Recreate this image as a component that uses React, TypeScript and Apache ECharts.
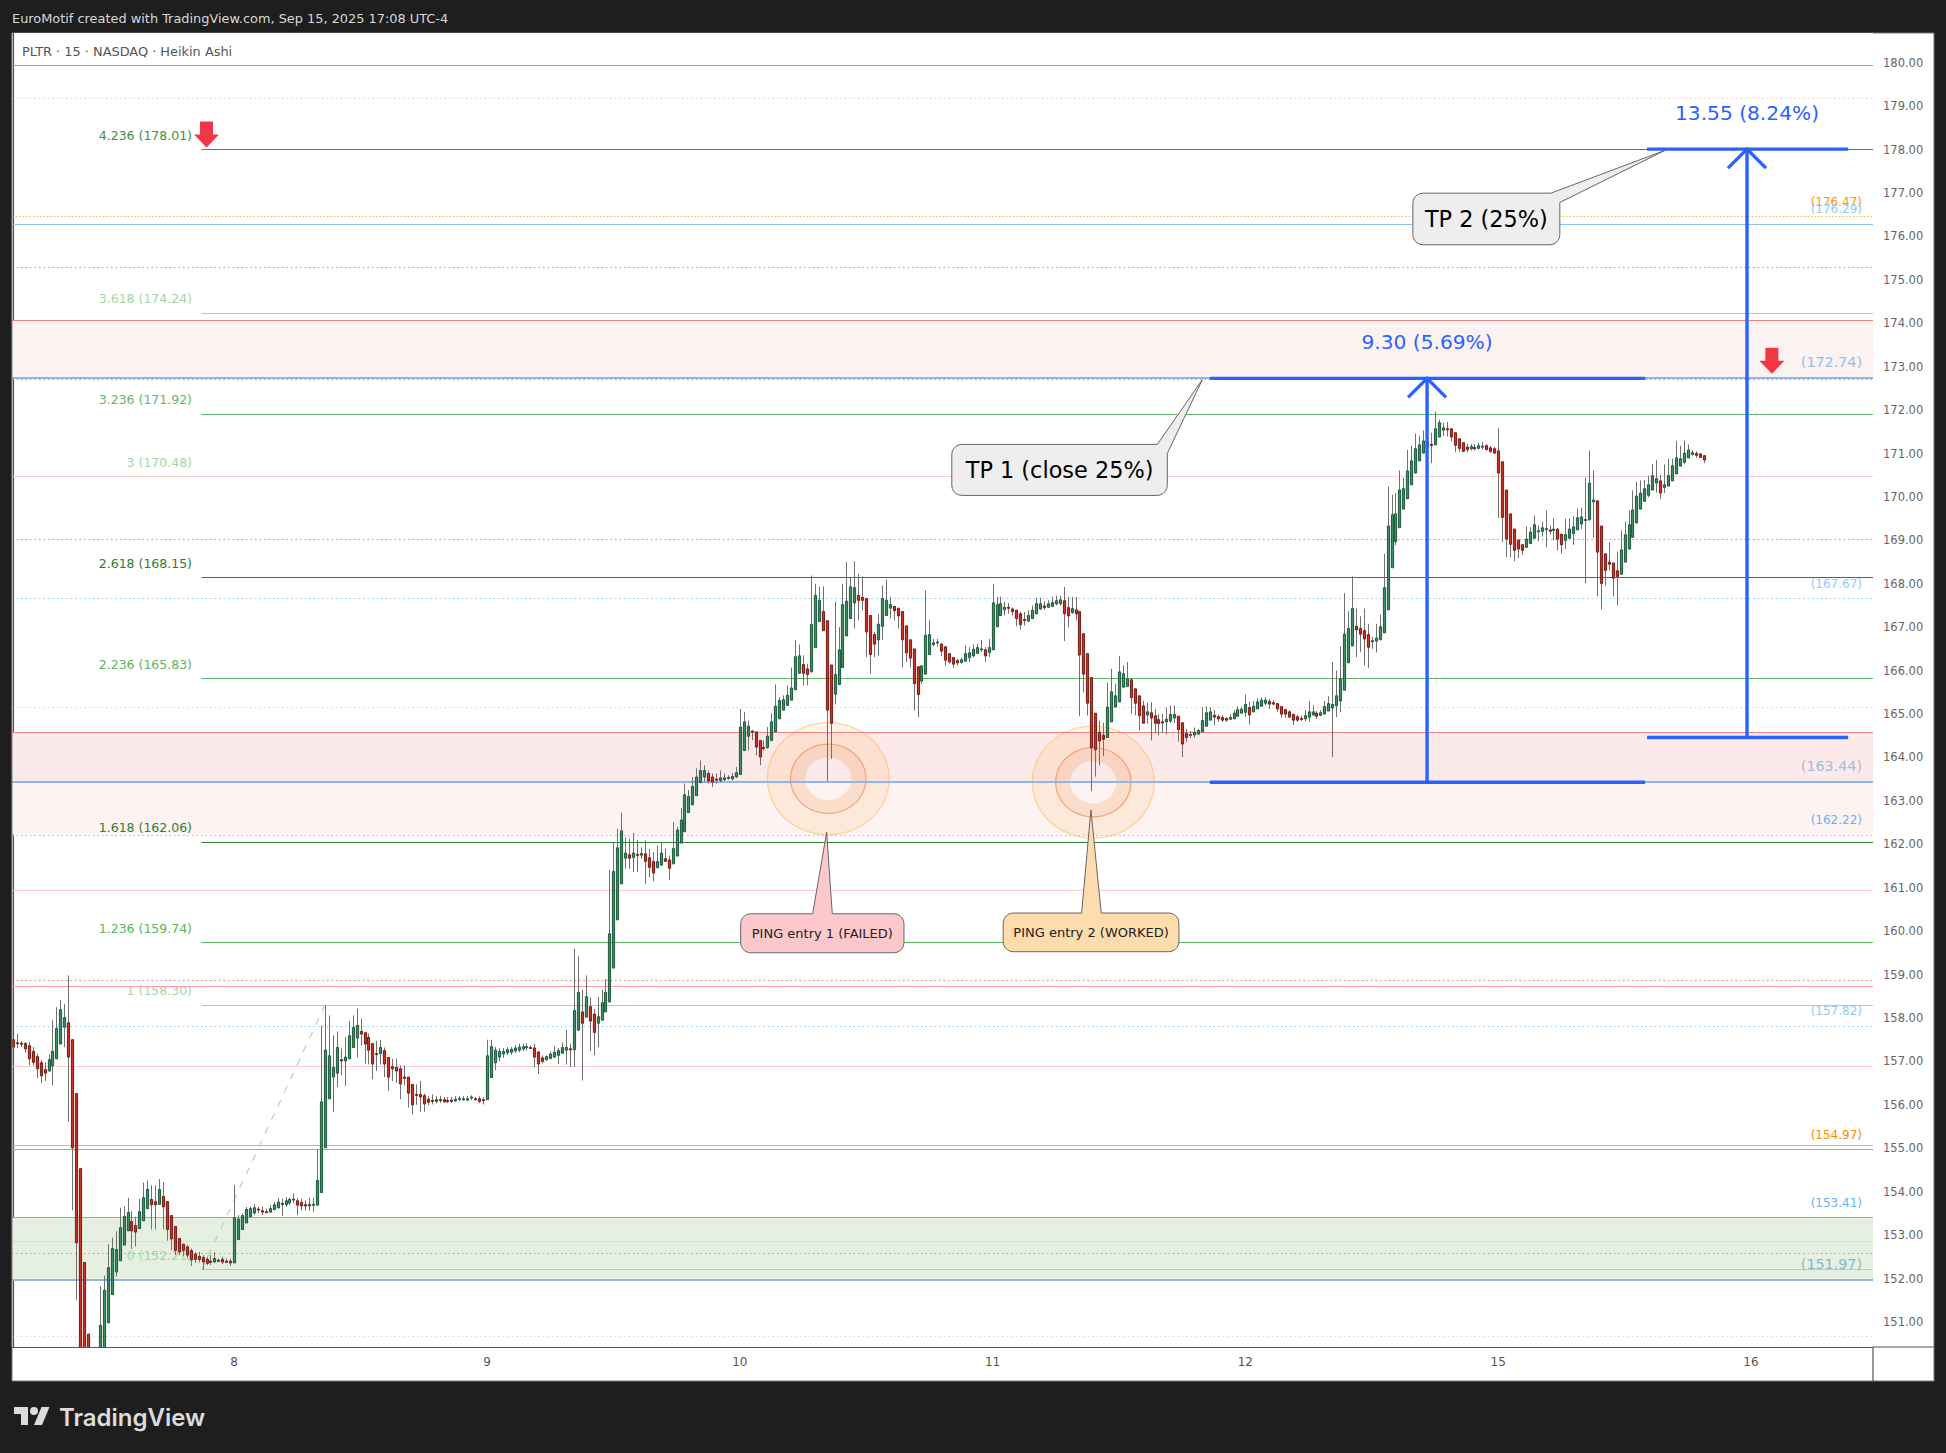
import React, { useEffect, useRef } from 'react';
import * as echarts from 'echarts';

// 15 minute Heikin Ashi bars as [open, close, low, high], one list per session
const barsSep5 = [
  [157.5, 157.33, 157.3, 157.56], [157.43, 157.41, 157.31, 157.64], [157.42, 157.4, 157.33, 157.47], [157.41, 157.29, 157.2, 157.45],
  [157.36, 157.06, 156.91, 157.45], [157.23, 156.98, 156.91, 157.33], [157.11, 156.83, 156.61, 157.18], [156.97, 156.67, 156.5, 157.03],
  [156.81, 156.73, 156.55, 156.98], [156.78, 157.04, 156.76, 157.16], [156.9, 157.23, 156.45, 157.95], [157.06, 157.76, 157.06, 158.25],
  [157.4, 158.19, 157.4, 158.42], [157.79, 158.01, 157.33, 158.32], [157.89, 157.1, 155.61, 158.98], [157.5, 155.01, 153.57, 157.5],
  [156.26, 152.82, 151.5, 156.26], [154.53, 149.6, 149.2, 154.53], [152.37, 149.4, 149.0, 152.37], [150.72, 149.2, 148.8, 150.72],
  [149.9, 149.0, 148.6, 150.0], [149.0, 149.6, 148.7, 149.9], [149.5, 150.92, 149.3, 151.82], [149.9, 151.73, 149.8, 152.07],
  [150.98, 152.25, 150.98, 152.79], [151.63, 152.69, 151.63, 152.94], [152.15, 152.67, 152.05, 153.09], [152.41, 153.17, 152.41, 153.63],
  [152.77, 153.43, 152.77, 153.66], [153.1, 153.52, 153.1, 153.86], [153.31, 153.1, 152.68, 153.55], [153.22, 153.07, 152.74, 153.42],
  [153.15, 153.54, 153.15, 153.84], [153.33, 153.86, 153.33, 154.21], [153.61, 154.05, 153.61, 154.26], [153.82, 153.7, 153.13, 154.15],
  [153.77, 153.7, 153.13, 154.15], [153.71, 154.05, 153.71, 154.29], [153.89, 153.65, 153.13, 154.22], [153.77, 153.13, 152.87, 153.77],
  [153.45, 152.91, 152.65, 153.45], [153.2, 152.65, 152.54, 153.2], [152.92, 152.61, 152.54, 152.92], [152.79, 152.65, 152.52, 152.8],
  [152.73, 152.54, 152.46, 152.77], [152.64, 152.43, 152.29, 152.69], [152.56, 152.44, 152.36, 152.61], [152.51, 152.44, 152.37, 152.61],
  [152.48, 152.38, 152.21, 152.54], [152.44, 152.35, 152.31, 152.5], [152.4, 152.39, 152.31, 152.54], [152.38, 152.46, 152.36, 152.6],
  [152.42, 152.41, 152.38, 152.46], [152.44, 152.38, 152.33, 152.5], [152.4, 152.39, 152.36, 152.46], [152.4, 152.36, 152.29, 152.46],
];
const barsSep8 = [
  [152.36, 153.4, 152.36, 154.15], [152.9, 153.37, 152.9, 153.46], [153.13, 153.45, 153.13, 153.5], [153.28, 153.59, 153.28, 153.65],
  [153.42, 153.61, 153.42, 153.66], [153.51, 153.63, 153.46, 153.71], [153.6, 153.59, 153.5, 153.65], [153.56, 153.53, 153.46, 153.65],
  [153.54, 153.53, 153.51, 153.61], [153.53, 153.61, 153.51, 153.69], [153.59, 153.7, 153.57, 153.76], [153.63, 153.76, 153.61, 153.86],
  [153.73, 153.72, 153.44, 153.84], [153.7, 153.79, 153.65, 153.88], [153.74, 153.82, 153.69, 153.86], [153.81, 153.83, 153.73, 153.96],
  [153.79, 153.69, 153.46, 153.86], [153.75, 153.67, 153.57, 153.84], [153.7, 153.67, 153.56, 153.8], [153.67, 153.71, 153.56, 153.86],
  [153.7, 153.71, 153.53, 153.86], [153.69, 154.26, 153.69, 154.97], [153.98, 156.07, 153.98, 157.83], [155.01, 157.26, 155.01, 158.29],
  [156.14, 157.13, 156.14, 158.06], [156.64, 156.86, 155.84, 157.6], [156.73, 157.32, 156.41, 157.69], [157.04, 157.01, 156.68, 157.3],
  [157.01, 157.1, 156.44, 157.56], [157.06, 157.59, 157.06, 157.93], [157.32, 157.78, 157.32, 158.06], [157.54, 157.83, 157.09, 158.22],
  [157.69, 157.63, 157.37, 157.99], [157.66, 157.4, 156.95, 157.68], [157.55, 157.26, 156.93, 157.64], [157.41, 156.94, 156.59, 157.41],
  [157.18, 157.17, 156.78, 157.47], [157.18, 157.32, 156.93, 157.5], [157.25, 156.94, 156.64, 157.32], [157.09, 156.64, 156.32, 157.09],
  [156.88, 156.83, 156.55, 157.06], [156.86, 156.78, 156.5, 157.06], [156.83, 156.48, 156.13, 156.91], [156.64, 156.61, 156.45, 156.91],
  [156.64, 156.27, 155.94, 156.64], [156.47, 156.0, 155.78, 156.47], [156.24, 156.23, 156.0, 156.47], [156.24, 156.18, 155.84, 156.55],
  [156.21, 156.02, 155.84, 156.26], [156.13, 156.06, 155.99, 156.21], [156.1, 156.09, 156.01, 156.24], [156.08, 156.12, 156.03, 156.2],
  [156.12, 156.11, 156.04, 156.21], [156.12, 156.07, 156.04, 156.18], [156.1, 156.09, 156.04, 156.18], [156.11, 156.08, 156.04, 156.18],
  [156.09, 156.13, 156.07, 156.2], [156.14, 156.15, 156.09, 156.2], [156.13, 156.14, 156.09, 156.2], [156.11, 156.14, 156.09, 156.2],
  [156.17, 156.18, 156.11, 156.22], [156.14, 156.13, 156.1, 156.18], [156.14, 156.08, 156.04, 156.2], [156.12, 156.11, 156.01, 156.18],
];
const barsSep9 = [
  [156.12, 157.13, 156.12, 157.5], [156.63, 157.34, 156.63, 157.5], [156.97, 157.26, 156.8, 157.33], [157.1, 157.23, 157.0, 157.3],
  [157.17, 157.23, 157.08, 157.31], [157.2, 157.27, 157.14, 157.33], [157.21, 157.28, 157.15, 157.33], [157.24, 157.31, 157.19, 157.37],
  [157.26, 157.33, 157.21, 157.41], [157.29, 157.34, 157.24, 157.41], [157.33, 157.34, 157.25, 157.42], [157.32, 157.31, 157.29, 157.37],
  [157.31, 157.1, 156.87, 157.41], [157.22, 156.94, 156.71, 157.22], [157.08, 157.0, 156.96, 157.14], [157.04, 157.11, 157.02, 157.14],
  [157.07, 157.17, 157.05, 157.23], [157.1, 157.21, 157.08, 157.35], [157.14, 157.25, 156.94, 157.31], [157.19, 157.32, 157.17, 157.44],
  [157.26, 157.32, 156.93, 157.73], [157.29, 157.27, 156.87, 157.41], [157.27, 158.17, 156.87, 159.59], [157.72, 158.59, 157.72, 159.42],
  [158.14, 157.88, 156.56, 158.64], [158.02, 158.49, 158.02, 158.98], [158.26, 157.93, 157.24, 158.48], [158.09, 157.67, 157.14, 158.21],
  [157.88, 158.03, 157.33, 158.48], [157.95, 158.35, 157.95, 158.65], [158.14, 158.59, 158.14, 158.9], [158.37, 159.94, 158.37, 161.41],
  [159.15, 161.37, 159.15, 162.05], [160.26, 161.92, 160.26, 162.36], [161.09, 162.31, 161.09, 162.73], [161.68, 161.8, 161.44, 162.16],
  [161.76, 161.68, 161.44, 162.13], [161.7, 161.8, 161.36, 162.26], [161.77, 161.76, 161.36, 162.1], [161.75, 161.79, 161.67, 161.93],
  [161.78, 161.61, 161.09, 162.09], [161.69, 161.47, 161.24, 161.89], [161.6, 161.34, 161.15, 161.82], [161.46, 161.6, 161.46, 161.97],
  [161.52, 161.8, 161.52, 162.05], [161.67, 161.61, 161.59, 161.9], [161.64, 161.45, 161.18, 161.74], [161.55, 161.9, 161.55, 162.51],
  [161.73, 162.33, 161.73, 162.4], [162.03, 162.56, 162.03, 162.84], [162.29, 163.14, 162.29, 163.4], [162.73, 163.1, 162.73, 163.25],
  [162.91, 163.33, 162.91, 163.55], [163.12, 163.55, 163.12, 163.75], [163.42, 163.7, 163.42, 163.93], [163.55, 163.7, 163.43, 163.82],
  [163.63, 163.46, 163.4, 163.7], [163.55, 163.43, 163.32, 163.63], [163.5, 163.48, 163.4, 163.63], [163.47, 163.53, 163.43, 163.7],
  [163.49, 163.53, 163.46, 163.63], [163.53, 163.54, 163.49, 163.59], [163.51, 163.56, 163.47, 163.64], [163.55, 163.65, 163.53, 163.78],
];
const barsSep10 = [
  [163.61, 164.7, 163.61, 165.12], [164.16, 164.82, 164.16, 165.05], [164.49, 164.72, 164.16, 164.85], [164.61, 164.59, 164.4, 164.62],
  [164.59, 164.24, 164.05, 164.59], [164.39, 164.01, 163.82, 164.39], [164.23, 164.22, 164.16, 164.39], [164.23, 164.49, 164.2, 164.7],
  [164.39, 164.82, 164.39, 165.02], [164.59, 165.18, 164.59, 165.68], [164.89, 165.31, 164.89, 165.39], [165.09, 165.33, 165.09, 165.43],
  [165.2, 165.43, 165.2, 165.66], [165.32, 165.6, 165.32, 166.07], [165.56, 166.32, 165.56, 166.7], [165.94, 166.34, 165.94, 166.6],
  [166.14, 165.94, 165.66, 166.35], [166.04, 165.91, 165.66, 166.16], [165.97, 167.06, 165.97, 168.19], [166.53, 167.73, 166.53, 168.0],
  [167.13, 167.62, 167.13, 167.93], [167.36, 166.92, 166.92, 167.94], [167.15, 165.09, 163.46, 167.15], [166.13, 164.79, 163.97, 166.13],
  [165.46, 165.91, 165.22, 167.58], [165.68, 166.48, 165.68, 167.0], [166.07, 167.52, 166.07, 168.0], [166.8, 167.6, 166.8, 168.5],
  [167.2, 167.93, 167.2, 168.15], [167.56, 167.91, 166.97, 168.52], [167.73, 167.62, 167.16, 168.23], [167.69, 167.62, 167.39, 168.17],
  [167.66, 166.89, 166.31, 167.66], [167.27, 166.37, 165.93, 167.27], [166.83, 166.61, 166.31, 166.9], [166.71, 167.07, 166.35, 167.31],
  [167.02, 167.66, 166.71, 167.96], [167.27, 167.62, 167.27, 168.1], [167.44, 167.52, 167.2, 167.7], [167.48, 167.38, 167.16, 167.48],
  [167.43, 167.26, 166.97, 167.46], [167.36, 166.71, 166.08, 167.36], [167.03, 166.41, 166.2, 167.03], [166.71, 166.29, 166.07, 166.71],
  [166.5, 165.7, 165.08, 166.5], [166.09, 165.45, 164.93, 166.09], [165.76, 166.11, 165.7, 166.11], [165.92, 166.81, 165.92, 167.85],
  [166.37, 166.83, 166.37, 167.16], [166.6, 166.64, 166.56, 166.73], [166.65, 166.66, 166.56, 166.73], [166.61, 166.45, 166.33, 166.64],
  [166.55, 166.24, 166.11, 166.55], [166.39, 166.2, 166.16, 166.39], [166.3, 166.15, 166.07, 166.3], [166.23, 166.18, 166.12, 166.27],
  [166.19, 166.25, 166.16, 166.3], [166.22, 166.39, 166.2, 166.58], [166.3, 166.41, 166.2, 166.54], [166.34, 166.49, 166.31, 166.6],
  [166.4, 166.53, 166.39, 166.62], [166.49, 166.5, 166.43, 166.71], [166.48, 166.34, 166.2, 166.54], [166.42, 166.53, 166.31, 166.73],
];
const barsSep11 = [
  [166.48, 167.56, 166.48, 168.0], [167.01, 167.52, 167.01, 167.7], [167.27, 167.54, 167.27, 167.7], [167.4, 167.46, 167.27, 167.58],
  [167.46, 167.44, 167.31, 167.56], [167.42, 167.36, 167.27, 167.46], [167.39, 167.2, 167.02, 167.4], [167.31, 167.06, 166.94, 167.35],
  [167.18, 167.16, 167.04, 167.35], [167.14, 167.27, 167.14, 167.39], [167.2, 167.39, 167.2, 167.5], [167.31, 167.54, 167.3, 167.68],
  [167.42, 167.54, 167.4, 167.68], [167.49, 167.45, 167.4, 167.6], [167.46, 167.54, 167.45, 167.62], [167.48, 167.57, 167.46, 167.7],
  [167.54, 167.61, 167.5, 167.73], [167.54, 167.63, 167.5, 167.73], [167.61, 167.31, 166.68, 167.93], [167.45, 167.26, 167.0, 167.7],
  [167.34, 167.43, 167.31, 167.7], [167.4, 167.31, 167.16, 167.7], [167.36, 166.36, 164.95, 167.36], [166.85, 165.92, 165.5, 166.85],
  [166.39, 165.25, 164.97, 166.39], [165.84, 164.22, 163.23, 165.84], [165.02, 164.18, 163.56, 165.02], [164.58, 164.38, 163.82, 164.85],
  [164.51, 164.42, 164.03, 164.8], [164.46, 165.16, 164.46, 165.72], [164.82, 165.51, 164.82, 166.04], [165.16, 165.42, 165.16, 165.7],
  [165.28, 165.97, 165.28, 166.34], [165.62, 165.93, 165.62, 166.12], [165.64, 165.81, 165.62, 166.2], [165.79, 165.38, 165.01, 165.8],
  [165.58, 165.25, 164.97, 165.6], [165.42, 164.96, 164.62, 165.42], [165.19, 164.79, 164.78, 165.3], [164.98, 165.05, 164.78, 165.26],
  [165.03, 164.91, 164.39, 165.28], [164.96, 164.79, 164.56, 165.11], [164.87, 164.78, 164.51, 165.0], [164.82, 164.8, 164.56, 165.0],
  [164.82, 164.88, 164.53, 165.15], [164.84, 164.99, 164.79, 165.2], [164.91, 164.99, 164.79, 165.2], [164.95, 164.64, 164.36, 164.95],
  [164.8, 164.31, 164.01, 164.8], [164.55, 164.46, 164.36, 164.66], [164.52, 164.53, 164.45, 164.61], [164.52, 164.58, 164.45, 164.69],
  [164.54, 164.62, 164.53, 164.66], [164.59, 164.85, 164.59, 165.16], [164.72, 165.03, 164.72, 165.18], [164.86, 165.05, 164.86, 165.16],
  [164.97, 164.93, 164.74, 165.09], [164.94, 164.89, 164.82, 164.99], [164.92, 164.86, 164.82, 164.97], [164.9, 164.86, 164.82, 164.92],
  [164.88, 164.92, 164.86, 164.99], [164.89, 165.02, 164.89, 165.09], [164.95, 165.1, 164.95, 165.18], [165.02, 165.11, 165.02, 165.16],
];
const barsSep12 = [
  [165.04, 165.22, 164.93, 165.45], [165.15, 164.98, 164.76, 165.28], [165.05, 165.18, 165.05, 165.3], [165.12, 165.28, 165.12, 165.37],
  [165.18, 165.32, 165.18, 165.38], [165.25, 165.32, 165.2, 165.39], [165.29, 165.23, 165.12, 165.35], [165.26, 165.23, 165.2, 165.32],
  [165.24, 165.12, 165.05, 165.25], [165.17, 165.0, 164.91, 165.19], [165.1, 165.0, 164.91, 165.12], [165.05, 164.93, 164.91, 165.09],
  [164.99, 164.86, 164.75, 165.01], [164.94, 164.86, 164.82, 164.97], [164.9, 164.88, 164.84, 164.97], [164.89, 164.96, 164.84, 165.09],
  [164.93, 165.05, 164.82, 165.3], [164.98, 165.05, 164.95, 165.2], [165.02, 164.95, 164.89, 165.07], [164.97, 165.03, 164.95, 165.09],
  [165.0, 165.17, 165.0, 165.3], [165.07, 165.24, 165.07, 165.41], [165.14, 165.22, 164.01, 166.2], [165.19, 165.42, 164.93, 166.0],
  [165.3, 165.81, 165.05, 166.56], [165.55, 166.84, 165.55, 167.79], [166.18, 166.97, 166.18, 167.37], [166.57, 167.43, 166.57, 168.17],
  [167.02, 166.94, 166.31, 167.43], [166.97, 166.84, 166.43, 167.25], [166.92, 166.73, 166.12, 167.43], [166.83, 166.54, 166.06, 167.08],
  [166.67, 166.69, 166.5, 166.78], [166.68, 166.75, 166.42, 167.08], [166.71, 167.01, 166.71, 167.29], [166.87, 167.91, 166.87, 168.69],
  [167.4, 169.33, 167.4, 170.24], [168.37, 169.59, 168.37, 170.05], [168.97, 169.61, 168.89, 170.09], [169.29, 170.16, 169.29, 170.61],
  [169.72, 170.19, 169.72, 170.44], [169.96, 170.6, 169.96, 171.08], [170.28, 170.83, 170.28, 171.18], [170.55, 171.11, 170.55, 171.46],
  [170.83, 171.2, 170.83, 171.41], [171.01, 171.29, 171.01, 171.53], [171.15, 171.27, 170.98, 171.51], [171.21, 171.19, 170.78, 171.48],
  [171.2, 171.57, 171.2, 171.97], [171.38, 171.71, 171.38, 171.78], [171.54, 171.59, 171.4, 171.71], [171.57, 171.55, 171.39, 171.73],
  [171.57, 171.38, 171.28, 171.57], [171.48, 171.19, 171.03, 171.48], [171.34, 171.12, 171.03, 171.34], [171.25, 171.05, 171.03, 171.25],
  [171.15, 171.09, 171.03, 171.22], [171.11, 171.16, 171.07, 171.22], [171.14, 171.11, 171.07, 171.22], [171.12, 171.18, 171.1, 171.25],
  [171.16, 171.17, 171.09, 171.26], [171.18, 171.09, 171.07, 171.21], [171.13, 171.05, 171.01, 171.18], [171.11, 171.01, 170.99, 171.15],
];
const barsSep15 = [
  [171.06, 170.55, 169.52, 171.59], [170.81, 169.53, 168.96, 170.81], [170.16, 169.03, 168.61, 170.16], [169.61, 168.91, 168.61, 169.61],
  [169.26, 168.77, 168.52, 169.26], [169.01, 168.8, 168.59, 169.01], [168.9, 168.77, 168.67, 168.9], [168.84, 169.03, 168.84, 169.32],
  [168.93, 169.19, 168.93, 169.3], [169.05, 169.36, 169.05, 169.57], [169.21, 169.22, 168.98, 169.34], [169.21, 169.29, 169.09, 169.43],
  [169.26, 169.27, 168.84, 169.69], [169.24, 169.21, 169.13, 169.34], [169.23, 169.26, 169.0, 169.51], [169.26, 169.03, 168.77, 169.28],
  [169.14, 168.9, 168.7, 169.16], [169.0, 169.13, 168.8, 169.5], [169.05, 169.26, 169.05, 169.51], [169.16, 169.31, 168.9, 169.56],
  [169.24, 169.52, 169.24, 169.73], [169.38, 169.54, 169.26, 169.75], [169.47, 169.48, 168.01, 170.44], [169.47, 170.32, 169.47, 171.07],
  [169.89, 169.93, 169.07, 170.61], [169.91, 168.73, 167.71, 169.91], [169.33, 168.01, 167.41, 169.33], [168.69, 168.31, 167.96, 168.69],
  [168.5, 168.45, 168.31, 168.95], [168.48, 168.13, 167.71, 168.48], [168.3, 168.17, 167.5, 168.74], [168.22, 168.78, 168.22, 169.23],
  [168.5, 169.13, 168.5, 169.43], [168.8, 169.36, 168.8, 169.69], [169.07, 169.7, 169.07, 170.15], [169.4, 170.02, 169.4, 170.35],
  [169.72, 170.09, 169.72, 170.38], [169.9, 170.19, 169.9, 170.39], [170.04, 170.28, 169.99, 170.49], [170.16, 170.49, 170.16, 170.76],
  [170.32, 170.42, 170.1, 170.85], [170.37, 170.09, 169.95, 170.51], [170.22, 170.28, 170.09, 170.75], [170.25, 170.49, 170.25, 170.88],
  [170.37, 170.72, 170.37, 170.88], [170.53, 170.9, 170.53, 171.29], [170.71, 170.88, 170.71, 171.18], [170.8, 171.01, 170.76, 171.3],
  [170.9, 171.08, 170.9, 171.21], [170.98, 171.02, 170.95, 171.08], [171.0, 170.96, 170.9, 171.05], [170.99, 170.91, 170.9, 171.01],
  [170.95, 170.85, 170.78, 170.95],
];

const bars = [...barsSep5, ...barsSep8, ...barsSep9, ...barsSep10, ...barsSep11, ...barsSep12, ...barsSep15];

const dayTickIndexes = [56, 120, 184, 248, 312, 376, 440];
const dayTickLabels = ['8', '9', '10', '11', '12', '15', '16'];
const priceTicks = [151, 152, 153, 154, 155, 156, 157, 158, 159, 160, 161, 162, 163, 164, 165, 166, 167, 168, 169, 170, 171, 172, 173, 174, 175, 176, 177, 178, 179, 180];

// fib extension levels, drawn from the swing low onwards
const fibRatios = ['4.236', '3.618', '3.236', '3', '2.618', '2.236', '1.618', '1.236', '1', '0'];
const fibPrices = [178.01, 174.24, 171.92, 170.48, 168.15, 165.83, 162.06, 159.74, 158.3, 152.21];

// horizontal levels drawn across the whole chart
const redLevels = [179.95, 174.08, 164.58];
const softRedLevels = [158.72, 155.08];
const pinkLevels = [170.48, 160.94, 156.9, 152.85];
const redDottedLevels = [175.3, 169.03, 162.22, 158.88, 152.59, 172.72];
const pinkDottedLevels = [179.19, 165.15, 150.66];
const blueLevels = [176.29];
const blueThickLevels = [172.74, 163.44, 151.97];
const blueDottedLevels = [167.67, 162.22, 157.82, 151.97];
const orangeLevels = [154.97];
const orangeDottedLevels = [176.47, 154.97];
const greenGreyLevels = [153.41];

const upperZone = [172.74, 174.08];
const middleZone = [163.44, 164.58];
const lowerZone = [162.22, 163.44];
const greenZone = [151.97, 153.41];

const smallPriceLabels = [176.47, 176.29, 167.67, 162.22, 157.82, 154.97, 153.41];
const largePriceLabels = [172.74, 163.44, 151.97];

const swingLine = [[47.8, 152.21], [79, 158.3]];
const entryRings = [[206.4, 163.51], [273.5, 163.43]];
const redArrows = [[49, 178.05], [445.3, 172.84]];

// measured moves: centre bar, bottom, top, left bar, right bar
const moveCentres = [358, 439];
const moveBottoms = [163.43, 164.46];
const moveTops = [172.73, 178.01];
const moveLefts = [303, 413.7];
const moveRights = [413.2, 464.6];
const moveTexts = ['9.30 (5.69%)', '13.55 (8.24%)'];

const calloutTexts = ['PING entry 1 (FAILED)', 'PING entry 2 (WORKED)', 'TP 1 (close 25%)', 'TP 2 (25%)'];
const calloutTips = [[206, 162.28], [272.9, 162.79], [301.1, 172.7], [418.2, 177.98]];

const FONT = '"DejaVu Sans", sans-serif';
const GRID_LEFT = 12;
const GRID_TOP = 33;
const GRID_RIGHT_X = 1873;
const GRID_BOTTOM_Y = 1347;

const fibColors = ['#3f8f46', '#a3d7a6', '#66b56b', '#a3d7a6', '#2e7d32', '#5cb560', '#2e7d32', '#5cb560', '#a9d3ab', '#a3d7a6'];
const smallLabelColors = ['#ff9800', '#90caf9', '#90caf9', '#64b5f6', '#90caf9', '#f58f00', '#64b5f6'];
const largeLabelColors = ['#90bff0', '#a0bde0', '#80bcd0'];

// box edges and tail base relative to the callout tip, in pixels
const calloutBoxes = [
  { x0: -86, x1: 77.3, y0: 81.6, y1: 120.6, r: 10, tail: [[-14, 81.6], [0, 0], [5.6, 81.6]], skipCorner: false, fill: '#fcc8cc', size: 13, color: '#222' },
  { x0: -87.7, x1: 88, y0: 103, y1: 141.7, r: 10, tail: [[-9.3, 103], [0, 0], [10.3, 103]], skipCorner: false, fill: '#ffdcae', size: 13, color: '#222' },
  { x0: -250.5, x1: -35, y0: 64.7, y1: 115.7, r: 10, tail: [[-45, 64.7], [0, 0], [-35, 73.7]], skipCorner: true, fill: '#eeeeee', size: 22.4, color: '#000' },
  { x0: -252, x1: -105, y0: 42.7, y1: 94.3, r: 10, tail: [[-114, 42.7], [0, 0], [-105, 52]], skipCorner: true, fill: '#eeeeee', size: 22.4, color: '#000' },
];

echarts.graphic.registerShape(
  'tvLogo',
  echarts.graphic.extendPath('M14 22H7V11H0V4h14v18zM28 22h-8l7.5-18h8L28 22zM20 4a4 4 0 1 0 0 8a4 4 0 1 0 0-8z', {})
);

const levelSeries = (values: number[], color: string, width: number, type: any, z: number) => ({
  type: 'line',
  data: [],
  z,
  silent: true,
  markLine: {
    silent: true,
    symbol: ['none', 'none'],
    animation: false,
    label: { show: false },
    lineStyle: { color, width, type },
    data: values.map((v) => ({ yAxis: v })),
  },
});

const zoneSeries = (zone: number[], color: string) => ({
  type: 'line',
  data: [],
  z: 1,
  silent: true,
  markArea: {
    silent: true,
    animation: false,
    itemStyle: { color },
    data: [[{ yAxis: zone[0] }, { yAxis: zone[1] }]],
  },
});

const arcPoints = (cx: number, cy: number, r: number, start: number) => {
  const pts: number[][] = [];
  for (let k = 0; k <= 5; k++) {
    const a = start + (k / 5) * (Math.PI / 2);
    pts.push([cx + r * Math.cos(a), cy + r * Math.sin(a)]);
  }
  return pts;
};

const App: React.FC = () => {
  const chartRef = useRef<HTMLDivElement>(null);

  useEffect(() => {
    if (!chartRef.current) return;
    const chart = echarts.init(chartRef.current, null, { renderer: 'svg' });

    const fibStart = 47.7;
    const xMax = 470.9;

    const option: any = {
      animation: false,
      backgroundColor: '#1e1e1e',
      textStyle: { fontFamily: FONT },
      grid: {
        left: GRID_LEFT,
        top: GRID_TOP,
        width: GRID_RIGHT_X - GRID_LEFT,
        height: GRID_BOTTOM_Y - GRID_TOP,
        backgroundColor: '#ffffff',
        show: true,
        borderWidth: 0,
      },
      xAxis: {
        type: 'value',
        min: -0.25,
        max: xMax,
        splitLine: { show: false },
        axisLine: { lineStyle: { color: '#555555', width: 1.2 } },
        axisTick: { show: false },
        axisLabel: {
          customValues: dayTickIndexes,
          color: '#555555',
          fontSize: 12,
          fontFamily: FONT,
          margin: 9,
          formatter: (v: number) => dayTickLabels[dayTickIndexes.indexOf(v)] ?? '',
        },
      },
      yAxis: {
        type: 'value',
        position: 'right',
        min: 150.423,
        max: 180.685,
        splitLine: { show: false },
        axisLine: { show: true, lineStyle: { color: '#555555', width: 1.2 } },
        axisTick: { show: false },
        axisLabel: {
          customValues: priceTicks,
          color: '#666666',
          fontSize: 11.5,
          fontFamily: FONT,
          margin: 10,
          formatter: (v: number) => v.toFixed(2),
        },
      },
      graphic: [
        { type: 'rect', z: -10, shape: { x: 12, y: 33, width: 1922, height: 1348 }, style: { fill: '#ffffff', stroke: '#777777', lineWidth: 1 } },
        { type: 'line', z: 100, shape: { x1: 12, y1: 33, x2: 12, y2: GRID_BOTTOM_Y }, style: { stroke: '#777777', lineWidth: 1 } },
        { type: 'line', z: 100, shape: { x1: GRID_RIGHT_X, y1: GRID_BOTTOM_Y, x2: 1934, y2: GRID_BOTTOM_Y }, style: { stroke: '#555555', lineWidth: 1.2 } },
        { type: 'line', z: 100, shape: { x1: GRID_RIGHT_X, y1: GRID_BOTTOM_Y, x2: GRID_RIGHT_X, y2: 1381 }, style: { stroke: '#555555', lineWidth: 1.2 } },
        { type: 'text', z: 100, x: 12, y: 18, style: { text: 'EuroMotif created with TradingView.com, Sep 15, 2025 17:08 UTC-4', fill: '#d8d8d8', font: `12.9px ${FONT}`, verticalAlign: 'middle' } },
        { type: 'text', z: 100, x: 22, y: 51, style: { text: 'PLTR · 15 · NASDAQ · Heikin Ashi', fill: '#555555', font: `12.9px ${FONT}`, verticalAlign: 'middle' } },
        { type: 'tvLogo', z: 100, x: 14, y: 1403, scaleX: 1, scaleY: 1, style: { fill: '#dcdcdc' } },
        { type: 'text', z: 100, x: 59, y: 1417, style: { text: 'TradingView', fill: '#dcdcdc', font: `600 24px Inter, ${FONT}`, verticalAlign: 'middle' } },
      ],
      series: [
        zoneSeries(upperZone, '#fdf2f2'),
        zoneSeries(middleZone, '#fce9e9'),
        zoneSeries(lowerZone, '#fdf3f3'),
        zoneSeries(greenZone, '#e6f0e1'),
        levelSeries(pinkDottedLevels, '#f8c8d0', 1, [1.5, 3], 2),
        levelSeries(redDottedLevels, '#ee7f80', 1, [1.5, 3], 2),
        levelSeries(blueDottedLevels, '#90caf9', 1, [1.5, 3], 2),
        levelSeries(orangeDottedLevels, '#ffb74d', 1, [1.5, 2], 2),
        levelSeries(redLevels, '#ee8080', 1, 'solid', 2),
        levelSeries(softRedLevels, '#ff9e9e', 1, 'solid', 2),
        levelSeries(pinkLevels, '#fbcdd0', 1, 'solid', 2),
        levelSeries(blueLevels, '#90c4f0', 1, 'solid', 2),
        levelSeries(blueThickLevels, '#8fb6ea', 2, 'solid', 2),
        levelSeries(orangeLevels, '#f59a23', 1, 'solid', 2),
        levelSeries(greenGreyLevels, '#90b890', 1, 'solid', 2),
        // fib lines start at the swing low
        {
          type: 'custom',
          z: 3,
          silent: true,
          clip: true,
          data: fibPrices.map((p, i) => [fibStart, p, i]),
          renderItem: (_: any, api: any) => {
            const idx = api.value(2);
            const p = api.coord([api.value(0), api.value(1)]);
            const end = api.coord([xMax, api.value(1)]);
            const y = Math.round(p[1]) + 0.5;
            return {
              type: 'group',
              children: [
                { type: 'line', shape: { x1: p[0], y1: y, x2: end[0], y2: y }, style: { stroke: fibColors[idx], lineWidth: 1 } },
                {
                  type: 'text',
                  style: {
                    text: `${fibRatios[idx]} (${fibPrices[idx].toFixed(2)})`,
                    x: 192,
                    y: p[1] - 14,
                    fill: fibColors[idx],
                    font: `12.5px ${FONT}`,
                    align: 'right',
                    verticalAlign: 'middle',
                  },
                },
              ],
            };
          },
        },
        // right hand price labels
        {
          type: 'custom',
          z: 3,
          silent: true,
          data: smallPriceLabels.map((p, i) => [p, i]),
          renderItem: (_: any, api: any) => {
            const c = api.coord([xMax, api.value(0)]);
            return {
              type: 'text',
              style: {
                text: `(${api.value(0).toFixed(2)})`,
                x: 1862,
                y: c[1] - 14.5,
                fill: smallLabelColors[api.value(1)],
                font: `12px ${FONT}`,
                align: 'right',
                verticalAlign: 'middle',
              },
            };
          },
        },
        {
          type: 'custom',
          z: 3,
          silent: true,
          data: largePriceLabels.map((p, i) => [p, i]),
          renderItem: (_: any, api: any) => {
            const c = api.coord([xMax, api.value(0)]);
            return {
              type: 'text',
              style: {
                text: `(${api.value(0).toFixed(2)})`,
                x: 1862,
                y: c[1] - 16,
                fill: largeLabelColors[api.value(1)],
                font: `14.3px ${FONT}`,
                align: 'right',
                verticalAlign: 'middle',
              },
            };
          },
        },
        // dashed swing line
        {
          type: 'line',
          data: [],
          z: 3,
          silent: true,
          markLine: {
            silent: true,
            symbol: ['none', 'none'],
            animation: false,
            label: { show: false },
            lineStyle: { color: '#a9dcab', width: 1.2, type: [7, 8] },
            data: [[{ coord: swingLine[0] }, { coord: swingLine[1] }]],
          },
        },
        // entry rings
        {
          type: 'custom',
          z: 4,
          silent: true,
          data: entryRings,
          renderItem: (_: any, api: any) => {
            const c = api.coord([api.value(0), api.value(1)]);
            const squash = 0.92;
            return {
              type: 'group',
              x: c[0],
              y: c[1],
              scaleY: squash,
              children: [
                { type: 'ring', shape: { cx: 0, cy: 0, r: 61, r0: 23 }, style: { fill: 'rgba(255,167,38,0.12)' } },
                { type: 'ring', shape: { cx: 0, cy: 0, r: 37.7, r0: 23 }, style: { fill: 'rgba(233,100,60,0.09)' } },
                { type: 'circle', shape: { cx: 0, cy: 0, r: 61 }, style: { fill: 'none', stroke: 'rgba(255,183,77,0.55)', lineWidth: 1.2 } },
                { type: 'circle', shape: { cx: 0, cy: 0, r: 37.7 }, style: { fill: 'none', stroke: 'rgba(240,120,60,0.6)', lineWidth: 1.2 } },
              ],
            };
          },
        },
        // Heikin Ashi bars
        {
          type: 'custom',
          z: 5,
          silent: true,
          clip: true,
          data: bars.map((b, i) => [i, b[0], b[1], b[2], b[3]]),
          encode: { x: 0, y: [1, 2, 3, 4] },
          renderItem: (_: any, api: any) => {
            const i = api.value(0);
            const open = api.value(1);
            const close = api.value(2);
            const up = close >= open;
            const low = api.coord([i, api.value(3)]);
            const high = api.coord([i, api.value(4)]);
            const top = api.coord([i, Math.max(open, close)]);
            const bottom = api.coord([i, Math.min(open, close)]);
            const w = api.size([1, 0])[0] * 0.55;
            const x = Math.round(low[0]) + 0.5;
            const bodyH = Math.max(bottom[1] - top[1], 1);
            return {
              type: 'group',
              children: [
                { type: 'line', shape: { x1: x, y1: high[1], x2: x, y2: low[1] }, style: { stroke: '#707070', lineWidth: 1 } },
                {
                  type: 'rect',
                  shape: { x: x - w / 2, y: top[1], width: w, height: bodyH },
                  style: { fill: up ? '#3f8f66' : '#c8342a', stroke: up ? '#1d5a3c' : '#7a1a14', lineWidth: 1 },
                },
              ],
            };
          },
        },
        // measured moves
        {
          type: 'custom',
          z: 7,
          silent: true,
          data: moveCentres.map((c, i) => [c, moveBottoms[i], moveTops[i], moveLefts[i], moveRights[i], i]),
          renderItem: (_: any, api: any) => {
            const bottomL = api.coord([api.value(3), api.value(1)]);
            const bottomR = api.coord([api.value(4), api.value(1)]);
            const topL = api.coord([api.value(3), api.value(2)]);
            const topR = api.coord([api.value(4), api.value(2)]);
            const cBottom = api.coord([api.value(0), api.value(1)]);
            const cTop = api.coord([api.value(0), api.value(2)]);
            const blue = '#2962ff';
            const stroke = { stroke: blue, lineWidth: 3.4, fill: 'none' };
            return {
              type: 'group',
              children: [
                { type: 'line', shape: { x1: bottomL[0], y1: bottomL[1], x2: bottomR[0], y2: bottomR[1] }, style: stroke },
                { type: 'line', shape: { x1: topL[0], y1: topL[1], x2: topR[0], y2: topR[1] }, style: stroke },
                { type: 'line', shape: { x1: cBottom[0], y1: cBottom[1], x2: cTop[0], y2: cTop[1] }, style: stroke },
                {
                  type: 'polyline',
                  shape: { points: [[cTop[0] - 19, cTop[1] + 19], [cTop[0], cTop[1]], [cTop[0] + 19, cTop[1] + 19]] },
                  style: stroke,
                },
                {
                  type: 'text',
                  style: {
                    text: moveTexts[api.value(5)],
                    x: cTop[0],
                    y: cTop[1] - 36,
                    fill: blue,
                    font: `20.2px ${FONT}`,
                    align: 'center',
                    verticalAlign: 'middle',
                  },
                },
              ],
            };
          },
        },
        // red down arrows
        {
          type: 'custom',
          z: 8,
          silent: true,
          data: redArrows,
          renderItem: (_: any, api: any) => {
            const t = api.coord([api.value(0), api.value(1)]);
            return {
              type: 'polygon',
              shape: {
                points: [
                  [t[0], t[1]],
                  [t[0] - 12.5, t[1] - 13],
                  [t[0] - 6.5, t[1] - 13],
                  [t[0] - 6.5, t[1] - 26],
                  [t[0] + 6.5, t[1] - 26],
                  [t[0] + 6.5, t[1] - 13],
                  [t[0] + 12.5, t[1] - 13],
                ],
              },
              style: { fill: '#f23645' },
            };
          },
        },
        // callouts
        {
          type: 'custom',
          z: 9,
          silent: true,
          data: calloutTips.map((t, i) => [t[0], t[1], i]),
          renderItem: (_: any, api: any) => {
            const b = calloutBoxes[api.value(2)];
            const tip = api.coord([api.value(0), api.value(1)]);
            const pts: number[][] = [
              ...arcPoints(b.x0 + b.r, b.y0 + b.r, b.r, Math.PI),
              ...b.tail,
              ...(b.skipCorner ? [] : arcPoints(b.x1 - b.r, b.y0 + b.r, b.r, -Math.PI / 2)),
              ...arcPoints(b.x1 - b.r, b.y1 - b.r, b.r, 0),
              ...arcPoints(b.x0 + b.r, b.y1 - b.r, b.r, Math.PI / 2),
            ];
            return {
              type: 'group',
              x: tip[0],
              y: tip[1],
              children: [
                { type: 'polygon', shape: { points: pts }, style: { fill: b.fill, stroke: '#666666', lineWidth: 1 } },
                {
                  type: 'text',
                  style: {
                    text: calloutTexts[api.value(2)],
                    x: (b.x0 + b.x1) / 2,
                    y: (b.y0 + b.y1) / 2,
                    fill: b.color,
                    font: `${b.size}px ${FONT}`,
                    align: 'center',
                    verticalAlign: 'middle',
                  },
                },
              ],
            };
          },
        },
      ],
    };

    chart.setOption(option);
    return () => {
      chart.dispose();
    };
  }, []);

  return <div ref={chartRef} style={{ position: 'absolute', left: 0, top: 0, width: 1946, height: 1453 }} />;
};

export default App;
